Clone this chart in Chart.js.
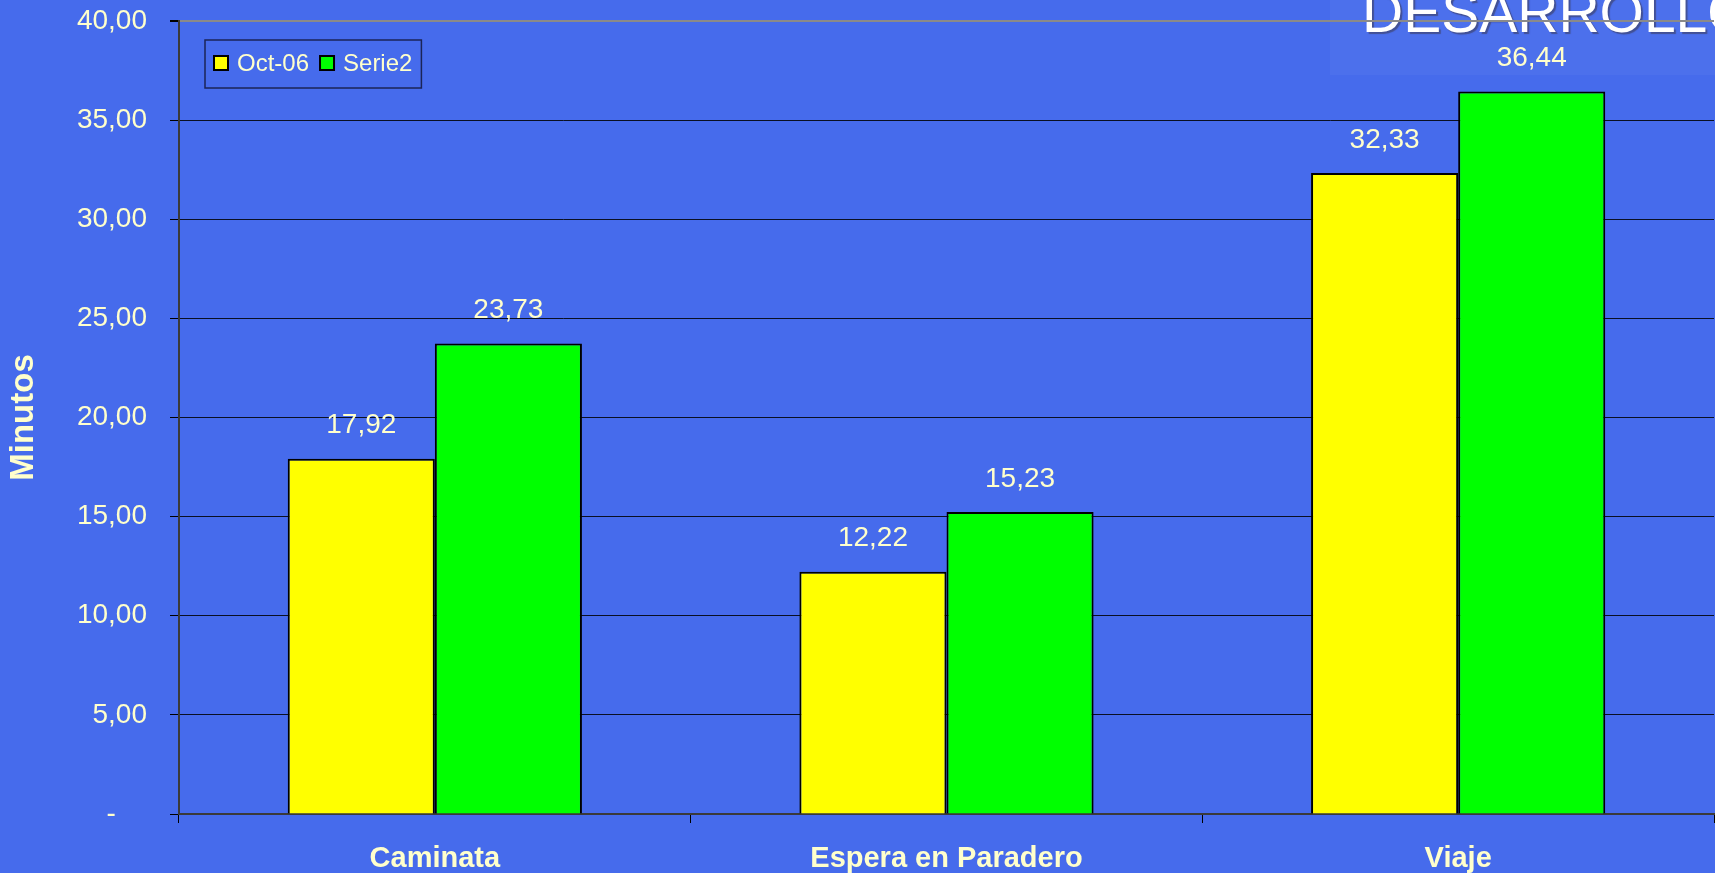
<!DOCTYPE html>
<html>
<head>
<meta charset="utf-8">
<script src="https://cdn.jsdelivr.net/npm/chart.js@4/dist/chart.umd.min.js"></script>
<style>
  html, body { margin: 0; padding: 0; background: #466BEC; }
  #wrap { width: 1715px; height: 873px; position: relative; }
  canvas { display: block; }
</style>
</head>
<body>
<div id="wrap"><canvas id="c" width="1715" height="873"></canvas></div>
<script>
const categories = ['Caminata', 'Espera en Paradero', 'Viaje'];
const seriesNames = ['Oct-06', 'Serie2'];
const oct06Values = [17.92, 12.22, 32.33];
const serie2Values = [23.73, 15.23, 36.44];
const yMin = 0, yMax = 40, yStep = 5;
const watermarkText = 'DESARROLLO';
const axisTitle = 'Minutos';

const FONT = "'Liberation Sans', Arial, Helvetica, sans-serif";
const TEXT = '#FFFFCC';

function fmt(v) {
  return v.toFixed(2).replace('.', ',');
}

const watermarkPlugin = {
  id: 'watermark',
  beforeDraw(chart) {
    const ctx = chart.ctx;
    ctx.save();
    ctx.fillStyle = 'rgba(255,255,255,0.035)';
    ctx.fillRect(1330, 0, 385, 75);
    ctx.font = '57px ' + FONT;
    ctx.textAlign = 'left';
    ctx.textBaseline = 'alphabetic';
    ctx.shadowColor = 'rgba(60,60,90,0.6)';
    ctx.shadowOffsetX = 2;
    ctx.shadowOffsetY = 2;
    ctx.shadowBlur = 1;
    ctx.fillStyle = '#FFFFFF';
    ctx.fillText(watermarkText, 1362, 32);
    ctx.restore();
  }
};

const valueLabelPlugin = {
  id: 'valueLabels',
  afterDatasetsDraw(chart) {
    const ctx = chart.ctx;
    ctx.save();
    ctx.font = '28px ' + FONT;
    ctx.fillStyle = TEXT;
    ctx.textAlign = 'center';
    ctx.textBaseline = 'middle';
    chart.data.datasets.forEach((ds, i) => {
      const meta = chart.getDatasetMeta(i);
      meta.data.forEach((el, j) => {
        ctx.fillText(fmt(ds.data[j]), el.x, el.y - 33);
      });
    });
    ctx.restore();
  }
};

const legendPlugin = {
  id: 'boxLegend',
  afterDraw(chart) {
    const ctx = chart.ctx;
    const left = 205, top = 40, height = 48;
    ctx.save();
    ctx.font = '24px ' + FONT;
    let x = left + 9;
    const cy = top + height / 2 - 1;
    const items = chart.data.datasets.map(ds => ({ label: ds.label, color: ds.backgroundColor }));
    const positions = [];
    items.forEach((it, i) => {
      positions.push(x);
      x += 14 + 9 + ctx.measureText(it.label).width + (i < items.length - 1 ? 11 : 9);
    });
    const width = x - left;
    ctx.lineWidth = 1.5;
    ctx.strokeStyle = '#1b2457';
    ctx.strokeRect(left, top, width, height);
    items.forEach((it, i) => {
      const px = positions[i];
      ctx.fillStyle = it.color;
      ctx.fillRect(px, cy - 7, 14, 14);
      ctx.lineWidth = 2;
      ctx.strokeStyle = '#000';
      ctx.strokeRect(px, cy - 7, 14, 14);
      ctx.fillStyle = TEXT;
      ctx.textAlign = 'left';
      ctx.textBaseline = 'middle';
      ctx.fillText(it.label, px + 23, cy + 1);
    });
    ctx.restore();
  }
};

new Chart(document.getElementById('c'), {
  type: 'bar',
  data: {
    labels: categories,
    datasets: [
      { label: seriesNames[0], data: oct06Values, backgroundColor: '#FFFF00', borderColor: '#000000', borderWidth: 2 },
      { label: seriesNames[1], data: serie2Values, backgroundColor: '#00FF00', borderColor: '#000000', borderWidth: 2 }
    ]
  },
  options: {
    responsive: false,
    animation: false,
    devicePixelRatio: 1,
    layout: { padding: { top: 21, right: 1, left: 0, bottom: 0 } },
    datasets: { bar: { categoryPercentage: 0.575, barPercentage: 1.0 } },
    plugins: {
      legend: { display: false },
      tooltip: { enabled: false }
    },
    scales: {
      x: {
        grid: { drawOnChartArea: false, drawTicks: true, tickLength: 9, color: '#000000', lineWidth: 1 },
        border: { display: true, color: '#3a3a3a', width: 2 },
        ticks: { color: TEXT, font: { family: FONT, size: 29, weight: 'bold' }, padding: 19, maxRotation: 0 },
        afterFit(scale) { scale.height = 59; scale.paddingLeft = 0; scale.paddingRight = 0; }
      },
      y: {
        min: yMin, max: yMax,
        grid: {
          color: (c) => (c.tick && c.tick.value === yMax) ? '#8a8a8a' : 'rgba(0,0,0,0.85)',
          tickColor: '#000000',
          lineWidth: (c) => (c.tick && c.tick.value === yMax) ? 2 : 1,
          tickLength: 9
        },
        border: { display: true, color: '#3a3a3a', width: 2 },
        ticks: {
          stepSize: yStep,
          color: TEXT,
          font: { family: FONT, size: 28 },
          padding: 23,
          callback: (v) => v === 0 ? '-    ' : fmt(v)
        },
        title: {
          display: true,
          text: axisTitle,
          color: TEXT,
          font: { family: FONT, size: 33, weight: 'bold' },
          padding: { top: 4, bottom: 0 }
        },
        afterFit(scale) { scale.width = 179; scale.paddingTop = 0; scale.paddingBottom = 0; }
      }
    }
  },
  plugins: [watermarkPlugin, valueLabelPlugin, legendPlugin]
});
</script>
</body>
</html>
